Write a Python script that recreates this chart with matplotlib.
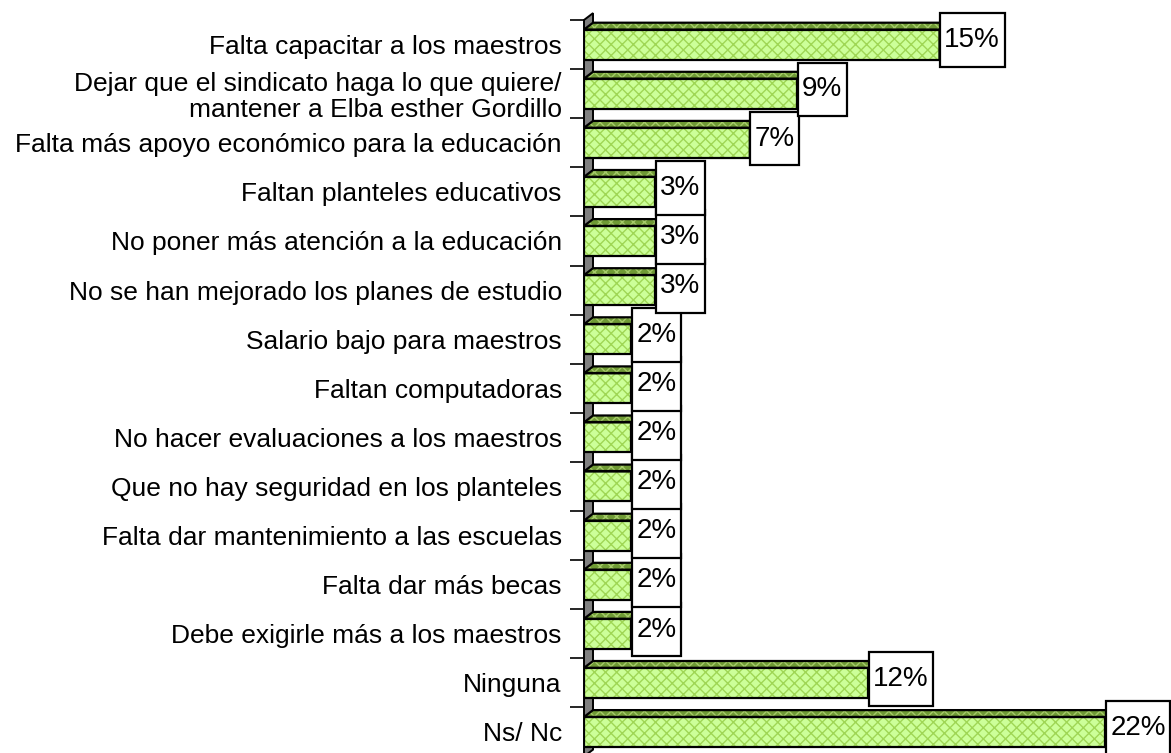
import matplotlib
matplotlib.use('Agg')
from matplotlib import pyplot as plt
from matplotlib.patches import Polygon
from matplotlib.path import Path

plt.rcParams['font.family'] = ['Liberation Sans', 'DejaVu Sans']
plt.rcParams['hatch.linewidth'] = 1.0

categories = [
    'Falta capacitar a los maestros',
    'Dejar que el sindicato haga lo que quiere/\nmantener a Elba esther Gordillo',
    'Falta más apoyo económico para la educación',
    'Faltan planteles educativos',
    'No poner más atención a la educación',
    'No se han mejorado los planes de estudio',
    'Salario bajo para maestros',
    'Faltan computadoras',
    'No hacer evaluaciones a los maestros',
    'Que no hay seguridad en los planteles',
    'Falta dar mantenimiento a las escuelas',
    'Falta dar más becas',
    'Debe exigirle más a los maestros',
    'Ninguna',
    'Ns/ Nc',
]
values = [15, 9, 7, 3, 3, 3, 2, 2, 2, 2, 2, 2, 2, 12, 22]

# depth of the pseudo-3D extrusion, in data units
DX = 0.38
DY = 0.14
BAR_H = 0.61

FRONT = '#ccff99'
FRONT_HATCH = '#9fd655'
TOP = '#6f9a35'
TOP_HATCH = '#a6cc6a'
SIDE = '#4f6f25'
SIDE_HATCH = '#7e9f45'


def label_box(x0, y0, width, height, mutation_size):
    padx = 0.16 * mutation_size
    pady = 0.5 * mutation_size
    x0, y0 = x0 - padx, y0 - pady
    x1, y1 = x0 + width + 2 * padx, y0 + height + 2 * pady
    return Path([(x0, y0), (x1, y0), (x1, y1), (x0, y1), (x0, y0)], closed=True)


def face(ax, pts, color, hatch_color, z):
    ax.add_patch(Polygon(pts, closed=True, facecolor=color, edgecolor=hatch_color,
                         hatch='xxx', linewidth=0, zorder=z))
    ax.add_patch(Polygon(pts, closed=True, fill=False, edgecolor='black',
                         linewidth=1.6, zorder=z + 0.1))


fig = plt.figure(figsize=(11.71, 7.53), dpi=100)
ax = fig.add_axes([584 / 1171, -3.5 / 753, 0.4959, 736.5 / 753])
n = len(categories)
ax.set_xlim(0, 24.5)
ax.set_ylim(n - 0.5, -0.5)

# side wall
wall = [(0, -0.5), (0, n - 0.5), (DX, n - 0.5 - DY), (DX, -0.5 - DY)]
ax.add_patch(Polygon(wall, closed=True, facecolor='#808080', edgecolor='black',
                     linewidth=1.4, zorder=1, clip_on=False))

for i, v in enumerate(values):
    top = i - BAR_H / 2
    bot = i + BAR_H / 2
    z = 2 + i * 0.01
    face(ax, [(0, top), (v, top), (v + DX, top - DY), (DX, top - DY)], TOP, TOP_HATCH, z)
    face(ax, [(v, top), (v, bot), (v + DX, bot - DY), (v + DX, top - DY)], SIDE, SIDE_HATCH, z)
    face(ax, [(0, top), (v, top), (v, bot), (0, bot)], FRONT, FRONT_HATCH, z)

# value labels, lower rows first so upper boxes sit on top
for i in range(n - 1, -1, -1):
    v = values[i]
    ax.annotate(f'{v}%', xy=(v + DX, i), xytext=(-3, 3), textcoords='offset points',
                ha='left', va='center', fontsize=20, zorder=10, annotation_clip=False,
                bbox=dict(boxstyle=label_box, facecolor='white', edgecolor='black',
                          linewidth=1.6))

ax.set_yticks(range(n))
ax.set_yticklabels(categories, fontsize=19, linespacing=1.1)
ax.tick_params(axis='y', which='major', length=0, pad=16)
ax.set_yticks([i - 0.5 for i in range(n + 1)], minor=True)
ax.tick_params(axis='y', which='minor', length=10, width=1.2, color='black')
ax.set_xticks([])
for s in ax.spines.values():
    s.set_visible(False)
ax.patch.set_alpha(0)

plt.savefig('out.png', dpi=100)
plt.close()
